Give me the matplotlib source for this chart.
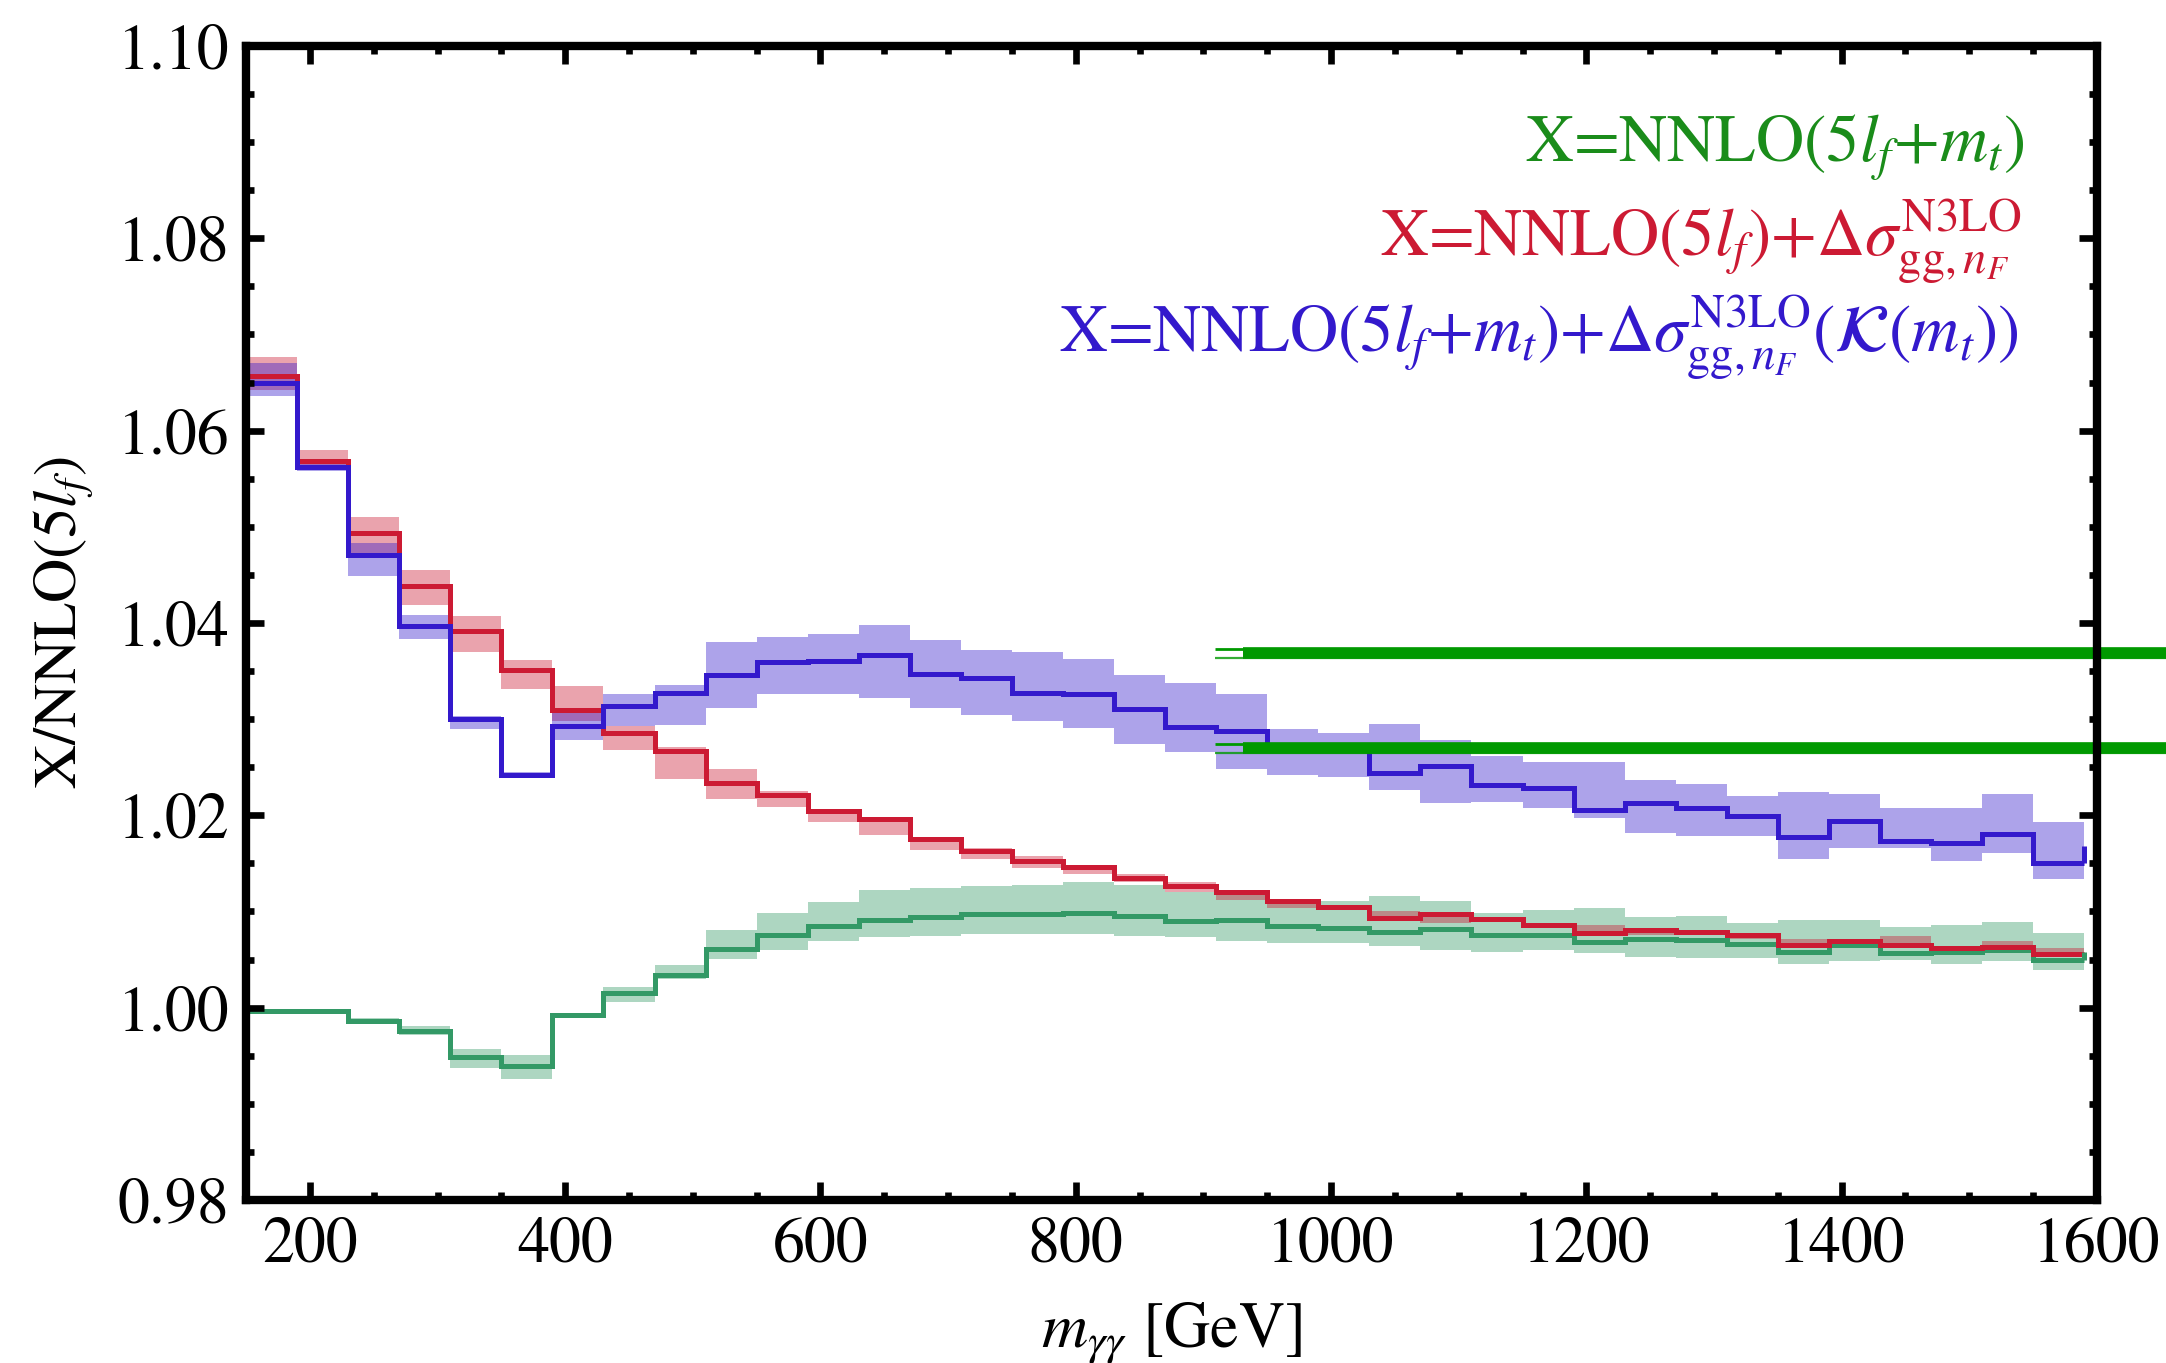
import numpy as np
import matplotlib
matplotlib.use('Agg')
import matplotlib.pyplot as plt
from matplotlib.ticker import MultipleLocator, FormatStrFormatter

plt.rcParams['font.family'] = 'STIXGeneral'
plt.rcParams['mathtext.fontset'] = 'stix'

# bin edges in m_yy [GeV]
edges = np.arange(150, 1591, 40)

# X = NNLO(5lf+mt)+dsigma(K(mt))  (blue)
blue = [1.0650, 1.0562, 1.0471, 1.0397, 1.0300, 1.0242, 1.0293, 1.0314, 1.0327,
        1.0346, 1.0359, 1.0360, 1.0367, 1.0347, 1.0343, 1.0327, 1.0326, 1.0311,
        1.0292, 1.0288, 1.0272, 1.0270, 1.0244, 1.0251, 1.0232, 1.0228, 1.0206,
        1.0213, 1.0208, 1.0199, 1.0177, 1.0194, 1.0173, 1.0171, 1.0181, 1.0150]
blue_hi = [1.0670, 1.0566, 1.0483, 1.0408, 1.0303, 1.0245, 1.0311, 1.0326, 1.0335,
           1.0380, 1.0385, 1.0388, 1.0398, 1.0382, 1.0372, 1.0370, 1.0363, 1.0346,
           1.0338, 1.0326, 1.0290, 1.0286, 1.0295, 1.0278, 1.0262, 1.0255, 1.0255,
           1.0237, 1.0233, 1.0220, 1.0224, 1.0222, 1.0208, 1.0208, 1.0222, 1.0193]
blue_lo = [1.0636, 1.0558, 1.0449, 1.0383, 1.0290, 1.0240, 1.0278, 1.0293, 1.0294,
           1.0312, 1.0326, 1.0326, 1.0322, 1.0312, 1.0304, 1.0298, 1.0291, 1.0274,
           1.0266, 1.0248, 1.0242, 1.0240, 1.0226, 1.0213, 1.0214, 1.0208, 1.0197,
           1.0182, 1.0178, 1.0178, 1.0155, 1.0166, 1.0166, 1.0152, 1.0161, 1.0134]
blue_end = 1.0168

# X = NNLO(5lf)+dsigma  (red)
red = [1.0657, 1.0568, 1.0494, 1.0438, 1.0392, 1.0351, 1.0309, 1.0286, 1.0267,
       1.0234, 1.0221, 1.0204, 1.0196, 1.0175, 1.0163, 1.0152, 1.0146, 1.0135,
       1.0126, 1.0120, 1.0111, 1.0105, 1.0093, 1.0097, 1.0092, 1.0086, 1.0078,
       1.0081, 1.0079, 1.0076, 1.0065, 1.0069, 1.0065, 1.0062, 1.0063, 1.0056]
red_hi = [1.0677, 1.0580, 1.0510, 1.0455, 1.0407, 1.0362, 1.0334, 1.0293, 1.0271,
          1.0248, 1.0225, 1.0207, 1.0198, 1.0177, 1.0166, 1.0158, 1.0147, 1.0139,
          1.0131, 1.0121, 1.0111, 1.0106, 1.0101, 1.0097, 1.0094, 1.0087, 1.0086,
          1.0082, 1.0081, 1.0077, 1.0071, 1.0070, 1.0074, 1.0063, 1.0069, 1.0062]
red_lo = [1.0642, 1.0563, 1.0473, 1.0419, 1.0370, 1.0331, 1.0298, 1.0268, 1.0238,
          1.0217, 1.0209, 1.0193, 1.0180, 1.0164, 1.0155, 1.0145, 1.0139, 1.0131,
          1.0120, 1.0112, 1.0104, 1.0102, 1.0092, 1.0088, 1.0089, 1.0083, 1.0077,
          1.0076, 1.0076, 1.0071, 1.0064, 1.0066, 1.0065, 1.0060, 1.0062, 1.0055]

# X = NNLO(5lf+mt)  (green)
green = [0.9997, 0.9996, 0.9986, 0.9976, 0.9949, 0.9939, 0.9992, 1.0015, 1.0034,
         1.0061, 1.0076, 1.0085, 1.0091, 1.0094, 1.0097, 1.0097, 1.0098, 1.0095,
         1.0090, 1.0091, 1.0085, 1.0083, 1.0079, 1.0082, 1.0076, 1.0076, 1.0068,
         1.0071, 1.0070, 1.0066, 1.0058, 1.0065, 1.0057, 1.0058, 1.0060, 1.0050]
green_hi = [0.9998, 0.9997, 0.9989, 0.9981, 0.9957, 0.9951, 0.9994, 1.0021, 1.0044,
            1.0081, 1.0098, 1.0110, 1.0122, 1.0124, 1.0127, 1.0128, 1.0131, 1.0128,
            1.0120, 1.0121, 1.0111, 1.0111, 1.0116, 1.0111, 1.0098, 1.0102, 1.0104,
            1.0094, 1.0095, 1.0088, 1.0091, 1.0091, 1.0084, 1.0086, 1.0089, 1.0078]
green_lo = [0.9996, 0.9994, 0.9984, 0.9972, 0.9937, 0.9926, 0.9989, 1.0006, 1.0030,
            1.0051, 1.0060, 1.0069, 1.0073, 1.0074, 1.0077, 1.0077, 1.0077, 1.0075,
            1.0073, 1.0069, 1.0067, 1.0067, 1.0064, 1.0060, 1.0058, 1.0060, 1.0057,
            1.0053, 1.0052, 1.0052, 1.0045, 1.0048, 1.0050, 1.0045, 1.0048, 1.0039]
green_end = 1.0058

# stray green strokes across the right part of the frame
streak_y = [1.0369, 1.0270]
streak_x0 = [909, 931]   # thin wisp start, thick stroke start
streak_x1 = 1660

c_blue = '#3319cc'
c_red = '#cc1a33'
c_green = '#339966'
c_streak = '#009900'

fig = plt.figure(figsize=(10.83, 6.815), dpi=200)
ax = fig.add_axes([0.1136, 0.1196, 0.8545, 0.8467])

for hi, lo, c in [(green_hi, green_lo, c_green), (red_hi, red_lo, c_red),
                  (blue_hi, blue_lo, c_blue)]:
    ax.stairs(hi, edges, baseline=lo, fill=True, color=c, alpha=0.4, lw=0)

for vals, end, c in [(green, green_end, c_green), (red, None, c_red),
                     (blue, blue_end, c_blue)]:
    ax.stairs(vals, edges, baseline=None, color=c, lw=1.8)
    if end is not None:
        ax.vlines(edges[-1], vals[-1], end, color=c, lw=1.8)

for y in streak_y:
    # wispy edges + solid core
    ax.plot([streak_x0[0], streak_x1], [y + 0.0004, y + 0.0004], color=c_streak,
            lw=1.0, clip_on=False, solid_capstyle='butt')
    ax.plot([streak_x0[1], streak_x1], [y, y], color=c_streak, lw=4.2,
            clip_on=False, solid_capstyle='butt')
    ax.plot([streak_x0[0], streak_x1], [y - 0.0005, y - 0.0005], color=c_streak,
            lw=0.8, clip_on=False, solid_capstyle='butt', alpha=0.8)

ax.set_xlim(150, 1600)
ax.set_ylim(0.98, 1.10)
ax.xaxis.set_major_locator(MultipleLocator(200))
ax.xaxis.set_minor_locator(MultipleLocator(50))
ax.yaxis.set_major_locator(MultipleLocator(0.02))
ax.yaxis.set_minor_locator(MultipleLocator(0.005))
ax.yaxis.set_major_formatter(FormatStrFormatter('%.2f'))

for s in ax.spines.values():
    s.set_linewidth(3.0)
ax.tick_params(which='both', direction='in', top=True, right=True,
               labelsize=23, width=2.4)
ax.tick_params(which='major', length=6.5, pad=6)
ax.tick_params(which='minor', length=2.8)

ax.set_xlabel(r'$m_{\gamma\gamma}$ [GeV]', fontsize=23, labelpad=9)
ax.set_ylabel(r'X/NNLO(5$l_f$)', fontsize=22, labelpad=8)

ax.text(0.9606, 0.8995, r'X=NNLO(5$l_f$+$m_t$)', color='#1a8c1a',
        fontsize=24, ha='right', va='baseline', transform=ax.transAxes)
ax.text(0.9590, 0.818, r'X=NNLO(5$l_f$)+$\Delta\sigma^{\rm N3LO}_{\rm gg,\it{n_F}}$',
        color=c_red, fontsize=24, ha='right', va='baseline', transform=ax.transAxes)
ax.text(0.9575, 0.735,
        r'X=NNLO(5$l_f$+$m_t$)+$\Delta\sigma^{\rm N3LO}_{\rm gg,\it{n_F}}$($\mathcal{K}$($m_t$))',
        color=c_blue, fontsize=24, ha='right', va='baseline', transform=ax.transAxes)

fig.savefig('out.png', dpi=200)
